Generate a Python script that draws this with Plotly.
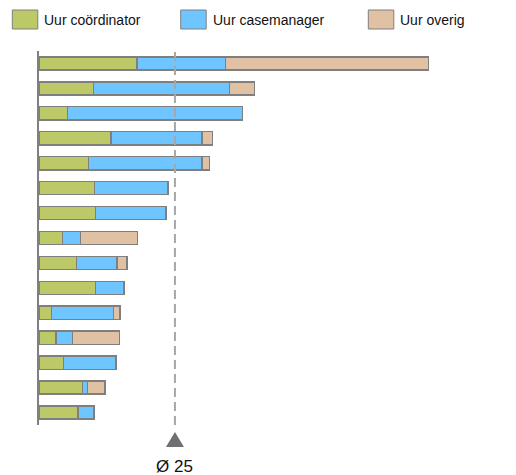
import plotly.graph_objects as go

rows = list(range(15))
coordinator = [18.0, 10.0, 5.2, 13.2, 9.1, 10.2, 10.4, 4.3, 6.9, 10.4, 2.3, 3.1, 4.5, 8.0, 7.2]
casemanager = [16.3, 25.0, 32.2, 16.8, 20.9, 13.5, 13.0, 3.3, 7.4, 5.2, 11.4, 3.1, 9.7, 0.9, 2.9]
overig = [37.3, 4.6, 0, 1.9, 1.4, 0, 0, 10.5, 1.9, 0, 1.2, 8.6, 0, 3.2, 0]
gemiddelde = 25

names = ["Uur coördinator", "Uur casemanager", "Uur overig"]
colors = ["#BDC866", "#6FC5FF", "#E0C1A3"]
edge = "#7F7F7F"
font = "Liberation Sans, Arial, sans-serif"

# page body has an 8px margin, so the figure is drawn offset by 8px
OFF = 8
FW, FH = 516 - OFF, 475 - OFF
L, W, T, H = 39 - OFF, 435, 51 - OFF, 374

def px(x):
    return (x - OFF - L) / W
def py(y):
    return (T + H - (y - OFF)) / H

fig = go.Figure()
for vals, nm, col in zip([coordinator, casemanager, overig], names, colors):
    fig.add_trace(go.Bar(y=rows, x=vals, orientation="h", name=nm,
                         marker=dict(color=col, line=dict(color=edge, width=1.5)),
                         showlegend=False))

# dashed average line + triangle marker + label
fig.add_shape(type="line", x0=gemiddelde, x1=gemiddelde, xref="x", yref="paper", y0=0, y1=1,
              line=dict(color="#A6A6A6", width=2, dash="9px,5px"))
fig.add_shape(type="path", xref="x", yref="paper", xsizemode="pixel", ysizemode="pixel",
              xanchor=gemiddelde, yanchor=py(447), path="M-9,0 L9,0 L0,15 Z",
              fillcolor="#707070", line=dict(width=0))
fig.add_annotation(x=gemiddelde, xref="x", y=py(466), yref="paper", text="Ø " + str(gemiddelde),
                   showarrow=False, font=dict(size=17, color="#111111", family=font),
                   yanchor="middle")

# custom legend with wide swatches
leg_x = [12.3, 180.7, 368.3]
for lx, nm, col in zip(leg_x, names, colors):
    fig.add_shape(type="rect", xref="paper", yref="paper",
                  x0=px(lx), x1=px(lx + 25.5), y0=py(29), y1=py(10),
                  fillcolor=col, line=dict(color=edge, width=1))
    fig.add_annotation(xref="paper", yref="paper", x=px(lx + 30), y=py(19.5), text=nm,
                       showarrow=False, xanchor="left", yanchor="middle",
                       font=dict(size=14, color="#111111", family=font))

fig.update_layout(
    width=FW, height=FH,
    margin=dict(l=L, r=FW - L - W, t=T, b=FH - T - H),
    barmode="stack", bargap=0.47,
    plot_bgcolor="white", paper_bgcolor="white",
    xaxis=dict(range=[0, 80], showgrid=False, zeroline=False, showticklabels=False, ticks=""),
    yaxis=dict(range=[14.5, -0.5], showgrid=False, zeroline=False, showticklabels=False,
               ticks="", showline=True, linecolor="#808080", linewidth=2),
)

fig.write_html("out.html")
